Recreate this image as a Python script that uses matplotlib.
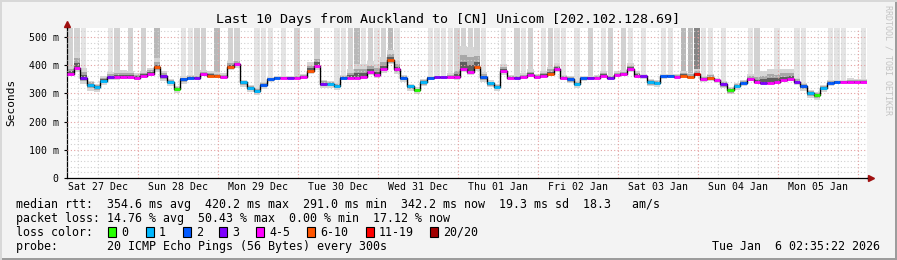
import matplotlib
matplotlib.use('Agg')
import matplotlib.pyplot as plt
import matplotlib.dates as mdates
from matplotlib.patches import Rectangle
from datetime import datetime, timedelta
import numpy as np

plt.rcParams['font.family'] = 'DejaVu Sans Mono'

W, H = 897, 260

# ---- data (2 hour bins, last 10 days) ----
end_time = datetime(2026, 1, 6, 2, 35, 22)
start_time = end_time - timedelta(days=10)
bin_hours = 2

median_ms = [
    370, 391, 355, 330, 323, 345, 357, 357, 359, 359,
    356, 363, 370, 392, 360, 341, 315, 350, 356, 356,
    368, 363, 363, 359, 395, 405, 339, 320, 308, 330,
    350, 356, 356, 356, 356, 358, 380, 398, 334, 334,
    328, 356, 356, 356, 359, 375, 365, 385, 418, 385,
    355, 325, 311, 340, 355, 357, 357, 357, 357, 387,
    375, 395, 357, 336, 324, 380, 356, 356, 357, 365,
    358, 363, 370, 387, 356, 351, 334, 353, 356, 356,
    363, 356, 365, 368, 387, 363, 360, 340, 338, 361,
    362, 359, 363, 359, 368, 350, 355, 346, 333, 312,
    327, 338, 350, 340, 338, 338, 340, 347, 350, 341,
    325, 300, 293, 320, 338, 341, 341, 341, 341, 340,
]

# lost pings out of 20 per bin
loss_pings = [
    4, 4, 3, 1, 1, 1, 3, 4, 4, 4,
    4, 4, 4, 7, 3, 1, 0, 2, 2, 3,
    4, 7, 7, 4, 7, 4, 1, 1, 1, 2,
    2, 2, 4, 3, 4, 4, 7, 4, 3, 1,
    1, 2, 4, 4, 4, 4, 4, 4, 7, 4,
    2, 1, 0, 1, 2, 3, 3, 4, 4, 4,
    4, 7, 2, 1, 1, 4, 4, 3, 4, 4,
    4, 4, 7, 4, 4, 2, 1, 2, 3, 4,
    4, 3, 4, 4, 4, 4, 3, 1, 1, 2,
    2, 4, 7, 7, 12, 4, 7, 4, 3, 0,
    1, 2, 4, 4, 3, 4, 4, 4, 4, 3,
    2, 1, 0, 1, 2, 2, 4, 4, 4, 4,
]

# smoke spread above / below the median (ms)
smoke_up = [
    30, 55, 35, 15, 12, 15, 20, 25, 25, 22,
    15, 15, 20, 35, 20, 10, 10, 10, 8, 8,
    15, 18, 12, 12, 20, 15, 10, 10, 10, 10,
    8, 6, 6, 6, 8, 10, 30, 40, 15, 10,
    10, 10, 30, 50, 45, 40, 40, 45, 35, 30,
    12, 10, 10, 10, 8, 6, 6, 15, 40, 80,
    90, 60, 20, 10, 10, 25, 10, 8, 15, 20,
    10, 15, 25, 20, 8, 10, 10, 8, 6, 8,
    15, 10, 15, 15, 20, 15, 10, 10, 10, 8,
    8, 10, 15, 15, 20, 12, 15, 10, 10, 12,
    10, 8, 20, 30, 40, 50, 45, 40, 35, 15,
    12, 12, 12, 10, 8, 8, 8, 12, 10, 10,
]
smoke_down = [
    10, 15, 20, 20, 18, 15, 10, 8, 8, 8,
    8, 10, 10, 15, 15, 15, 12, 15, 8, 6,
    8, 8, 8, 8, 12, 15, 15, 15, 12, 15,
    10, 6, 6, 6, 6, 6, 10, 15, 15, 15,
    15, 10, 6, 6, 8, 10, 10, 12, 15, 15,
    15, 15, 12, 15, 8, 6, 6, 6, 8, 10,
    10, 15, 15, 15, 15, 15, 6, 6, 6, 6,
    6, 6, 8, 10, 8, 15, 15, 10, 6, 6,
    6, 6, 6, 8, 10, 8, 10, 15, 15, 10,
    6, 6, 6, 6, 8, 10, 10, 10, 15, 15,
    15, 10, 6, 6, 6, 6, 6, 6, 6, 10,
    15, 15, 15, 15, 10, 6, 6, 6, 6, 6,
]

# shade of the off-scale smoke column (0 = none)
tail_level = [
    2, 2, 1, 0, 0, 0, 1, 2, 0, 2,
    0, 2, 0, 3, 0, 0, 0, 1, 1, 2,
    2, 0, 3, 0, 2, 2, 0, 0, 1, 1,
    1, 0, 1, 0, 2, 0, 0, 2, 0, 0,
    1, 1, 2, 3, 1, 2, 1, 2, 3, 1,
    0, 0, 0, 0, 1, 1, 1, 1, 2, 2,
    2, 2, 1, 0, 0, 1, 0, 2, 1, 2,
    0, 1, 2, 1, 1, 0, 1, 0, 2, 0,
    1, 2, 0, 2, 1, 0, 1, 0, 0, 1,
    1, 0, 3, 3, 4, 1, 1, 0, 1, 0,
    0, 0, 1, 2, 0, 0, 1, 0, 0, 1,
    1, 0, 0, 0, 1, 1, 1, 0, 0, 1,
]

loss_labels = ['0', '1', '2', '3', '4-5', '6-10', '11-19', '20/20']
loss_colors = ['#26ff00', '#00b8ff', '#0059ff', '#7e00ff',
               '#ff00ff', '#ff5500', '#ff0000', '#a10000']
loss_upper = [0, 1, 2, 3, 5, 10, 19, 20]
legend_box_x = [108, 146, 183, 219, 256, 307, 366, 430]
legend_text_x = [121, 159, 196, 232, 269, 320, 379, 443]

title = 'Last 10 Days from Auckland to [CN] Unicom [202.102.128.69]'
rtt_line = ('median rtt:  354.6 ms avg  420.2 ms max  291.0 ms min  '
            '342.2 ms now  19.3 ms sd  18.3   am/s')
loss_line = 'packet loss: 14.76 % avg  50.43 % max  0.00 % min  17.12 % now'
probe_line = 'probe:       20 ICMP Echo Pings (56 Bytes) every 300s'
stamp = 'Tue Jan  6 02:35:22 2026'


def loss_color(n):
    for upper, c in zip(loss_upper, loss_colors):
        if n <= upper:
            return c
    return loss_colors[-1]


def fx(px):
    return px / W


def fy(py):
    return 1 - py / H


ymax = 532
fig = plt.figure(figsize=(W / 100, H / 100), dpi=100, facecolor='#f3f3f3')
ax = fig.add_axes([fx(67), fy(178), 800 / W, 150 / H])
ax.set_facecolor('white')

x0 = mdates.date2num(start_time)
bw = bin_hours / 24
xs = x0 + np.arange(len(median_ms)) * bw
med = np.array(median_ms, dtype=float)
up = np.array(smoke_up, dtype=float)
dn = np.array(smoke_down, dtype=float)

# off-scale smoke columns
tail_colors = {1: '#e4e4e4', 2: '#d2d2d2', 3: '#b8b8b8', 4: '#858585'}
for x, m, lvl in zip(xs, med, tail_level):
    if lvl:
        ax.bar(x + bw * 0.1, ymax - m, width=bw * 0.8, bottom=m, align='edge',
               color=tail_colors[lvl], lw=0, zorder=1)

# smoke around the median
for frac, col in [(1.0, '#d6d6d6'), (0.6, '#a8a8a8'), (0.3, '#5e5e5e')]:
    lo = med - dn * frac
    hi = med + up * frac
    ax.bar(xs, hi - lo, width=bw, bottom=lo, align='edge', color=col, lw=0, zorder=2)

# grid
for v in range(20, ymax, 20):
    ax.axhline(v, color='#e4a0a0' if v % 100 == 0 else '#d0d0d0',
               ls=(0, (1, 2)), lw=0.8, zorder=3)
t = datetime(start_time.year, start_time.month, start_time.day, 6)
while t < end_time:
    col = '#e4a0a0' if t.hour == 0 else '#d0d0d0'
    ax.axvline(mdates.date2num(t), color=col, ls=(0, (1, 2)), lw=0.8, zorder=3)
    t += timedelta(hours=6)

# median line coloured by loss
ax.step(np.append(xs, xs[-1] + bw), np.append(med, med[-1]), where='post',
        color='black', lw=1.0, zorder=4)
ax.hlines(med, xs, xs + bw, colors=[loss_color(n) for n in loss_pings],
          lw=2.0, zorder=5, capstyle='butt')

ax.set_xlim(x0, x0 + 10)
ax.set_ylim(0, ymax)

noons = [datetime(2025, 12, 27, 12) + timedelta(days=k) for k in range(10)]
ax.set_xticks(mdates.date2num(noons))
ax.set_xticklabels([d.strftime('%a %d %b') for d in noons], fontsize=7.1)
ax.tick_params(axis='x', length=0, pad=3)
ax.set_yticks(range(0, 600, 100))
ax.set_yticklabels(['0'] + ['%d m' % v for v in range(100, 600, 100)], fontsize=7.1)
ax.tick_params(axis='y', length=2, pad=4, width=0.8)

for s in ['top', 'right']:
    ax.spines[s].set_visible(False)
ax.spines['left'].set_linewidth(0.9)
ax.spines['bottom'].set_linewidth(0.9)
ax.plot([1, 1.004], [0, 0], transform=ax.transAxes, color='black', lw=0.9, clip_on=False)
ax.plot([0, 0], [1, 1.025], transform=ax.transAxes, color='black', lw=0.9, clip_on=False)
ax.plot([1.005], [0], marker='>', ms=4, color='#a01010', transform=ax.transAxes, clip_on=False)
ax.plot([0], [1.03], marker='^', ms=4, color='#a01010', transform=ax.transAxes, clip_on=False)

# texts
fig.text(fx(448), fy(23.5), title, ha='center', va='baseline', fontsize=9.6)
fig.text(fx(11), fy(102), 'Seconds', rotation=90, ha='center', va='center', fontsize=8)
fig.text(fx(887.5), fy(60), 'RRDTOOL / TOBI OETIKER', rotation=270, ha='center',
         va='center', fontsize=6, color='#c4c4c4')

fig.text(fx(16), fy(207.7), rtt_line, va='baseline', fontsize=8.4)
fig.text(fx(16), fy(221.7), loss_line, va='baseline', fontsize=8.4)
fig.text(fx(16), fy(235.7), 'loss color:', va='baseline', fontsize=8.4)
for bx, tx, lab, col in zip(legend_box_x, legend_text_x, loss_labels, loss_colors):
    fig.add_artist(Rectangle((fx(bx), fy(236.5)), 8 / W, 10 / H, transform=fig.transFigure,
                             facecolor=col, edgecolor='black', lw=0.8))
    fig.text(fx(tx), fy(235.7), lab, va='baseline', fontsize=8.4)
fig.text(fx(16), fy(250), probe_line, va='baseline', fontsize=8.4)
fig.text(fx(880), fy(250), stamp, ha='right', va='baseline', fontsize=8.4)

# image frame
fig.add_artist(Rectangle((0, 0), 1, 2 / H, transform=fig.transFigure, color='#9c9c9c', lw=0))
fig.add_artist(Rectangle((1 - 2 / W, 0), 2 / W, 1, transform=fig.transFigure, color='#9c9c9c', lw=0))
fig.add_artist(Rectangle((0, 1 - 2 / H), 1, 2 / H, transform=fig.transFigure, color='#d8d8d8', lw=0))
fig.add_artist(Rectangle((0, 0), 2 / W, 1, transform=fig.transFigure, color='#d8d8d8', lw=0))

fig.savefig('out.png', dpi=100, facecolor=fig.get_facecolor())
